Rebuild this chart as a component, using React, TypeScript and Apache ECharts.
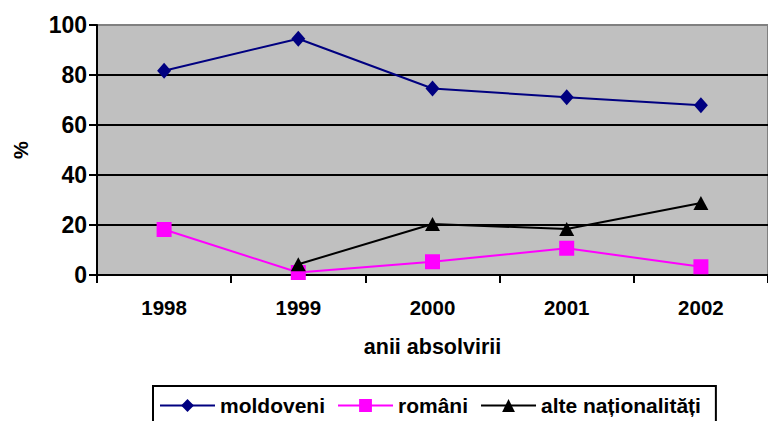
import React, { useEffect, useRef } from "react";
import * as echarts from "echarts";

const years = ["1998", "1999", "2000", "2001", "2002"];
const moldoveni = [81.7, 94.5, 74.6, 71.1, 67.9];
const romani = [18.2, 1.0, 5.3, 10.7, 3.3];
const alteNationalitati = [null, 4.3, 20.4, 18.4, 28.8];
const yTicks = { min: 0, max: 100, interval: 20 };

const FONT = "'Liberation Sans', Arial, sans-serif";

export default function App() {
  const ref = useRef<HTMLDivElement>(null);
  useEffect(() => {
    if (!ref.current) return;
    const chart = echarts.init(ref.current, null, { renderer: "svg" });
    const textBase = { fontFamily: FONT, fontWeight: "bold" as const, fontSize: 20, color: "#000" };
    chart.setOption({
      animation: false,
      backgroundColor: "#fff",
      textStyle: { fontFamily: FONT },
      grid: {
        left: 97,
        top: 25,
        right: -9,
        bottom: 146,
        show: true,
        backgroundColor: "#C0C0C0",
        borderColor: "#808080",
        borderWidth: 2,
      },
      legend: {
        left: 153,
        top: 386,
        width: 620,
        padding: [9, 15, 20, 6],
        itemGap: 12,
        itemWidth: 55,
        itemHeight: 16,
        borderColor: "#000",
        borderWidth: 2,
        textStyle: { ...textBase, fontSize: 21 },
        data: ["moldoveni", "români", "alte naționalități"],
      },
      xAxis: {
        type: "category",
        data: years,
        boundaryGap: true,
        name: "anii absolvirii",
        nameLocation: "middle",
        nameGap: 61,
        nameTextStyle: { ...textBase, fontSize: 21.5 },
        axisLine: { lineStyle: { color: "#000", width: 2 } },
        axisTick: { show: true, alignWithLabel: false, length: 8, lineStyle: { color: "#000", width: 2 } },
        axisLabel: { ...textBase, fontSize: 20.5, margin: 22 },
        splitLine: { show: false },
      },
      yAxis: {
        type: "value",
        min: yTicks.min,
        max: yTicks.max,
        interval: yTicks.interval,
        name: "%",
        nameLocation: "middle",
        nameRotate: 90,
        nameGap: 66,
        nameTextStyle: textBase,
        axisLine: { show: true, lineStyle: { color: "#000", width: 2 } },
        axisTick: { show: true, length: 8, lineStyle: { color: "#000", width: 2 } },
        axisLabel: { ...textBase, fontSize: 23, margin: 10 },
        splitLine: {
          show: true,
          lineStyle: {
            color: ["#000", "#000", "#000", "#000", "#000", "#808080"],
            width: 2,
          },
        },
      },
      series: [
        {
          name: "moldoveni",
          type: "line",
          data: moldoveni,
          symbol: "diamond",
          symbolSize: [14, 16],
          itemStyle: { color: "#000080" },
          lineStyle: { color: "#000080", width: 2 },
        },
        {
          name: "români",
          type: "line",
          data: romani,
          symbol: "rect",
          symbolSize: 15,
          itemStyle: { color: "#FF00FF" },
          lineStyle: { color: "#FF00FF", width: 2 },
        },
        {
          name: "alte naționalități",
          type: "line",
          data: alteNationalitati,
          symbol: "triangle",
          symbolSize: [15, 14],
          itemStyle: { color: "#000" },
          lineStyle: { color: "#000", width: 2 },
        },
      ],
    });
    return () => chart.dispose();
  }, []);
  return (
    <div
      ref={ref}
      style={{ position: "fixed", left: 0, top: 0, width: 768, height: 421, overflow: "hidden" }}
    />
  );
}
